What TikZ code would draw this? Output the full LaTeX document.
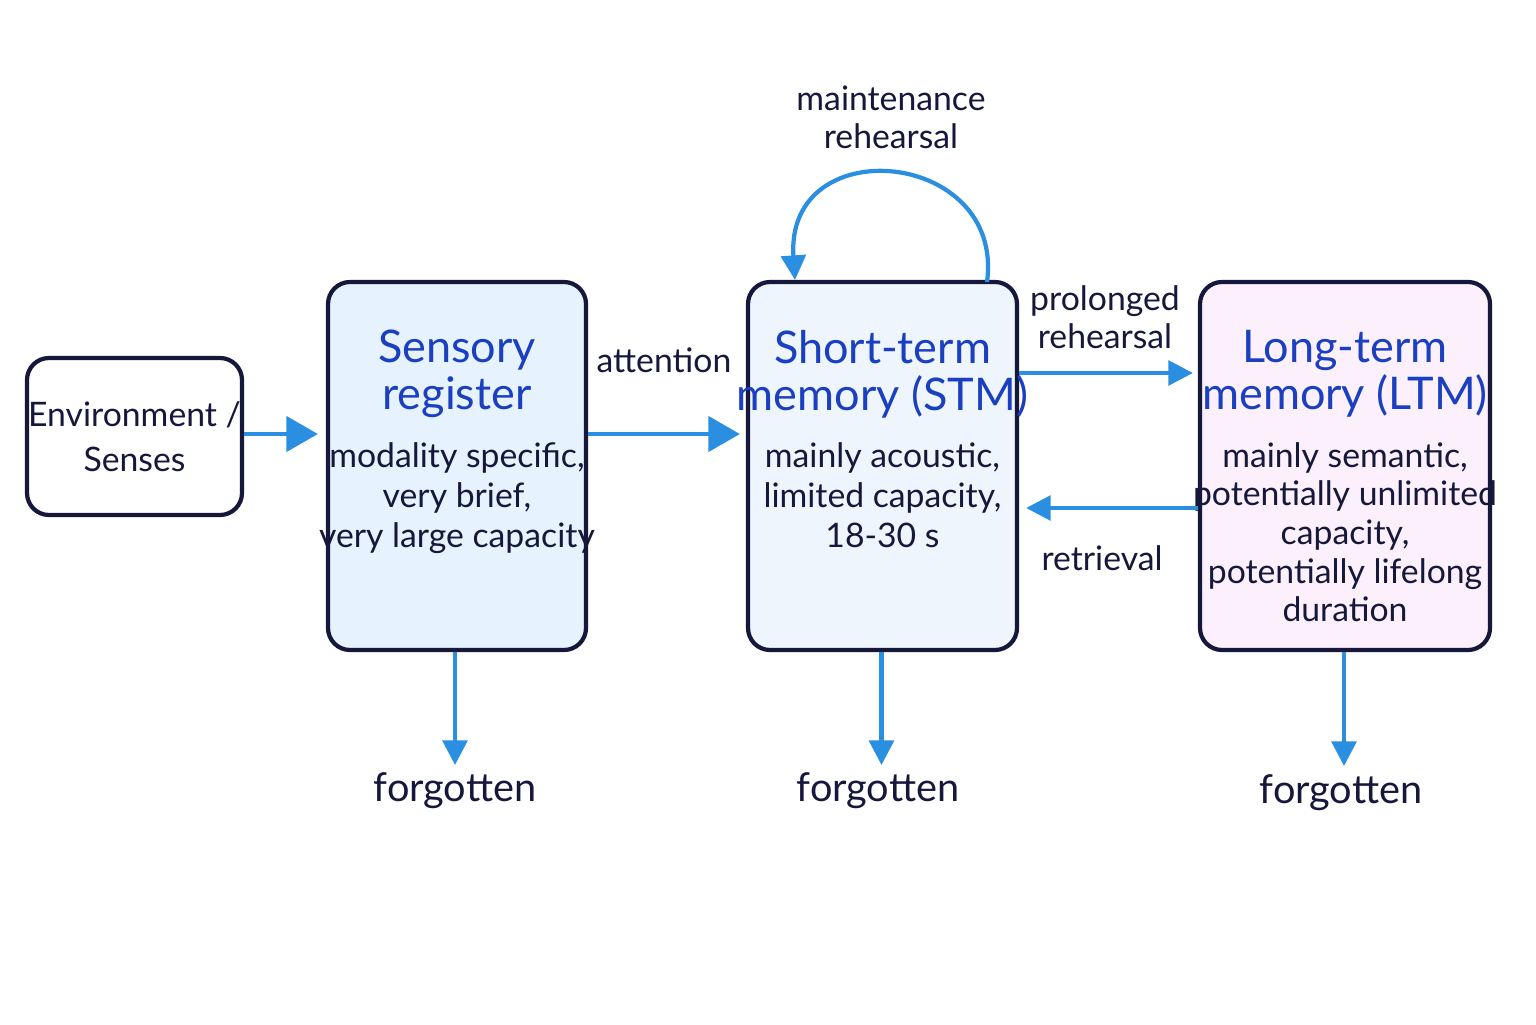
\documentclass[tikz,border=0pt]{standalone}
\usepackage{fontspec}
\setmainfont{Lato}
\usetikzlibrary{positioning,arrows.meta}
\definecolor{navy}{HTML}{15183A}
\definecolor{ttl}{HTML}{1A3FC0}
\definecolor{arr}{HTML}{2A8FE0}
\definecolor{srfill}{HTML}{E6F2FD}
\definecolor{stfill}{HTML}{EEF5FC}
\definecolor{ltfill}{HTML}{FBF0FB}
\tikzset{
  store/.style={draw=navy,line width=1.2pt,rounded corners=0.22cm,minimum height=3.68cm},
  ttlbox/.style={text=ttl,font=\fontsize{12.8}{13.4}\selectfont,align=center,anchor=north},
  body/.style={text=navy,font=\fontsize{9.6}{11.4}\selectfont,align=center,anchor=north},
  lbl/.style={text=navy,font=\fontsize{9.6}{10.8}\selectfont,align=center},
  flow/.style={draw=arr,line width=1.2pt,-{Triangle[length=7pt,width=7pt]}},
  bigflow/.style={draw=arr,line width=1.2pt,-{Triangle[length=9pt,width=10pt]}}
}
\begin{document}
\begin{tikzpicture}
  \useasboundingbox (0,0) rectangle (15.36,10.24);
  % stores
  \node[store,minimum width=2.15cm,minimum height=1.57cm,fill=white] (env) at (1.345,5.875) {};
  \node[lbl] at (env) {Environment /\\[2pt]Senses};
  \node[store,minimum width=2.58cm,fill=srfill] (sr) at (4.57,5.58) {};
  \node[store,minimum width=2.69cm,fill=stfill] (stm) at (8.825,5.58) {};
  \node[store,minimum width=2.9cm,fill=ltfill] (ltm) at (13.45,5.58) {};

  \node[ttlbox] (srt) at ([yshift=-0.38cm]sr.north) {Sensory\\register};
  \node[body] at ([yshift=-1.5cm]sr.north) {modality specific,\\very brief,\\very large capacity};
  \node[ttlbox] (stmt) at ([yshift=-0.38cm]stm.north) {Short-term\\memory (STM)};
  \node[body] at ([yshift=-1.5cm]stm.north) {mainly acoustic,\\limited capacity,\\18-30 s};
  \node[ttlbox] (ltmt) at ([yshift=-0.38cm]ltm.north) {Long-term\\memory (LTM)};
  \node[body,font=\fontsize{9.6}{11}\selectfont] at ([yshift=-1.5cm]ltm.north) {mainly semantic,\\potentially unlimited\\capacity,\\potentially lifelong\\duration};

  % forgotten
  \node[lbl,font=\fontsize{11.3}{12}\selectfont] (f1) at (4.55,2.33) {forgotten};
  \node[lbl,font=\fontsize{11.3}{12}\selectfont] (f2) at (8.78,2.33) {forgotten};
  \node[lbl,font=\fontsize{11.3}{12}\selectfont] (f3) at (13.41,2.31) {forgotten};
  \coordinate (d1) at (4.55,2.59);
  \coordinate (d2) at (8.815,2.59);
  \coordinate (d3) at (13.44,2.58);
  \draw[flow] (sr.south -| d1) -- (d1);
  \draw[flow] (stm.south -| d2) -- (d2);
  \draw[flow] (ltm.south -| d3) -- (d3);

  % flows
  \draw[bigflow] (env.east |- 0,5.90) -- ([xshift=-0.08cm]sr.west |- 0,5.90);
  \draw[bigflow] (sr.east |- 0,5.90) -- ([xshift=-0.06cm]stm.west |- 0,5.90);
  \node[lbl] (att) at (6.64,6.64) {attention};
  \draw[flow] (stm.east |- 0,6.51) -- ([xshift=-0.05cm]ltm.west |- 0,6.51);
  \node[lbl] (pr) at (11.05,7.07) {prolonged\\rehearsal};
  \draw[flow] (ltm.west |- 0,5.16) -- ([xshift=0.07cm]stm.east |- 0,5.16);
  \node[lbl] (ret) at (11.02,4.66) {retrieval};

  % loop
  \coordinate (lp1) at (9.87,7.42);
  \coordinate (lp2) at (7.95,7.44);
  \draw[flow] (lp1) .. controls (10.05,8.75) and (7.85,8.95) .. (lp2);
  \node[lbl] (mr) at (8.91,9.07) {maintenance\\rehearsal};
\end{tikzpicture}
\end{document}
